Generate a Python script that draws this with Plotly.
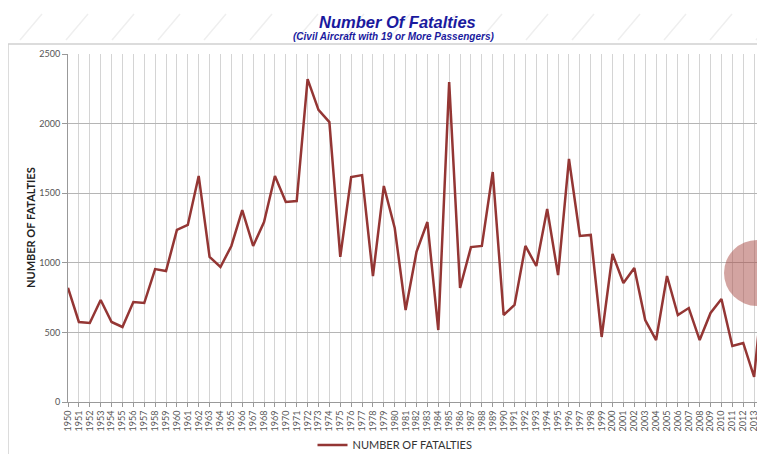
import plotly.graph_objects as go

years = list(range(1950, 2015))
fatalities = [820, 575, 568, 733, 575, 539, 718, 711, 955, 941,
              1236, 1272, 1624, 1042, 970, 1121, 1379, 1121, 1293, 1624,
              1437, 1444, 2320, 2098, 2011, 1042, 1616, 1630, 905, 1552,
              1250, 661, 1078, 1293, 517, 2299, 819, 1113, 1121, 1652,
              625, 697, 1121, 977, 1386, 912, 1746, 1193, 1200, 467,
              1063, 855, 963, 589, 445, 905, 625, 675, 445, 640,
              740, 402, 424, 180, 970]
y_ticks = [0, 500, 1000, 1500, 2000, 2500]

LINE = "#943634"
OFF = 8  # page body margin
W, H = 765 - OFF, 454 - OFF
L, R, T, B = 68 - OFF, 0, 54 - OFF, 52

fig = go.Figure()
fig.add_trace(go.Scatter(
    x=years, y=fatalities, mode="lines", name="NUMBER OF FATALTIES",
    line=dict(color=LINE, width=2.5), cliponaxis=False,
))

pw = W - L - R
ph = H - T - B
def px(x):
    return (x - OFF - L) / pw
def py(y):
    return (H - B - (y - OFF)) / ph

shapes = [
    dict(type="line", xref="paper", yref="paper", x0=px(8), x1=px(8), y0=py(44), y1=py(460),
         line=dict(color="#d0d0d0", width=1.5)),
    dict(type="line", xref="paper", yref="paper", x0=px(8), x1=px(770), y0=py(44), y1=py(44),
         line=dict(color="#d0d0d0", width=1.5)),
    dict(type="circle", xref="paper", yref="paper", x0=px(724), x1=px(790), y0=py(240), y1=py(306),
         fillcolor="rgba(170,80,75,0.52)", line=dict(width=0), layer="above"),
]
for i in range(17):
    x0 = 20 + i * 46
    shapes.append(dict(type="line", xref="paper", yref="paper",
                       x0=px(x0), x1=px(x0 + 22), y0=py(40), y1=py(14),
                       line=dict(color="#efefef", width=1.5), layer="below"))

fig.update_layout(
    width=W, height=H,
    margin=dict(l=L, r=R, t=T, b=B, autoexpand=False),
    paper_bgcolor="white", plot_bgcolor="white",
    font=dict(family="Lato, 'Open Sans', sans-serif", color="#555555"),
    showlegend=True,
    legend=dict(orientation="h", x=px(395), xanchor="center", y=py(445), yanchor="middle",
                font=dict(size=11, color="#333333"), itemwidth=30),
    annotations=[
        dict(text="<b><i>Number Of Fatalties</i></b>", xref="paper", yref="paper",
             x=px(397), y=py(22), xanchor="center", yanchor="middle", showarrow=False,
             font=dict(family="Liberation Sans, Arial, sans-serif", size=16.5, color="#1a1a9e")),
        dict(text="<b><i>(Civil Aircraft with 19 or More Passengers)</i></b>", xref="paper", yref="paper",
             x=px(393), y=py(37), xanchor="center", yanchor="middle", showarrow=False,
             font=dict(family="Liberation Sans, Arial, sans-serif", size=10, color="#1a1a9e")),
        dict(text="<b>NUMBER OF FATALTIES</b>", xref="paper", yref="paper",
             x=px(30), y=0.5, xanchor="center", yanchor="middle", showarrow=False,
             textangle=-90, font=dict(size=11, color="#222222")),
    ],
    shapes=shapes,
)
fig.update_xaxes(
    range=[1950, 2014.0], tickmode="array", tickvals=years, ticktext=[str(y) for y in years],
    tickangle=-90, tickfont=dict(size=9, color="#555555"), automargin=False,
    showgrid=True, gridcolor="#d4d4d4", gridwidth=1,
    showline=True, linecolor="#999999", linewidth=1,
    ticks="outside", ticklen=4, tickcolor="#999999", zeroline=False,
)
fig.update_yaxes(
    range=[0, 2500], tickvals=y_ticks, tickfont=dict(size=9, color="#555555"), automargin=False,
    showgrid=True, gridcolor="#b5b5b5", gridwidth=1,
    showline=True, linecolor="#999999", linewidth=1,
    ticks="outside", ticklen=5, tickcolor="#999999", zeroline=False,
)

fig.write_html("out.html")
